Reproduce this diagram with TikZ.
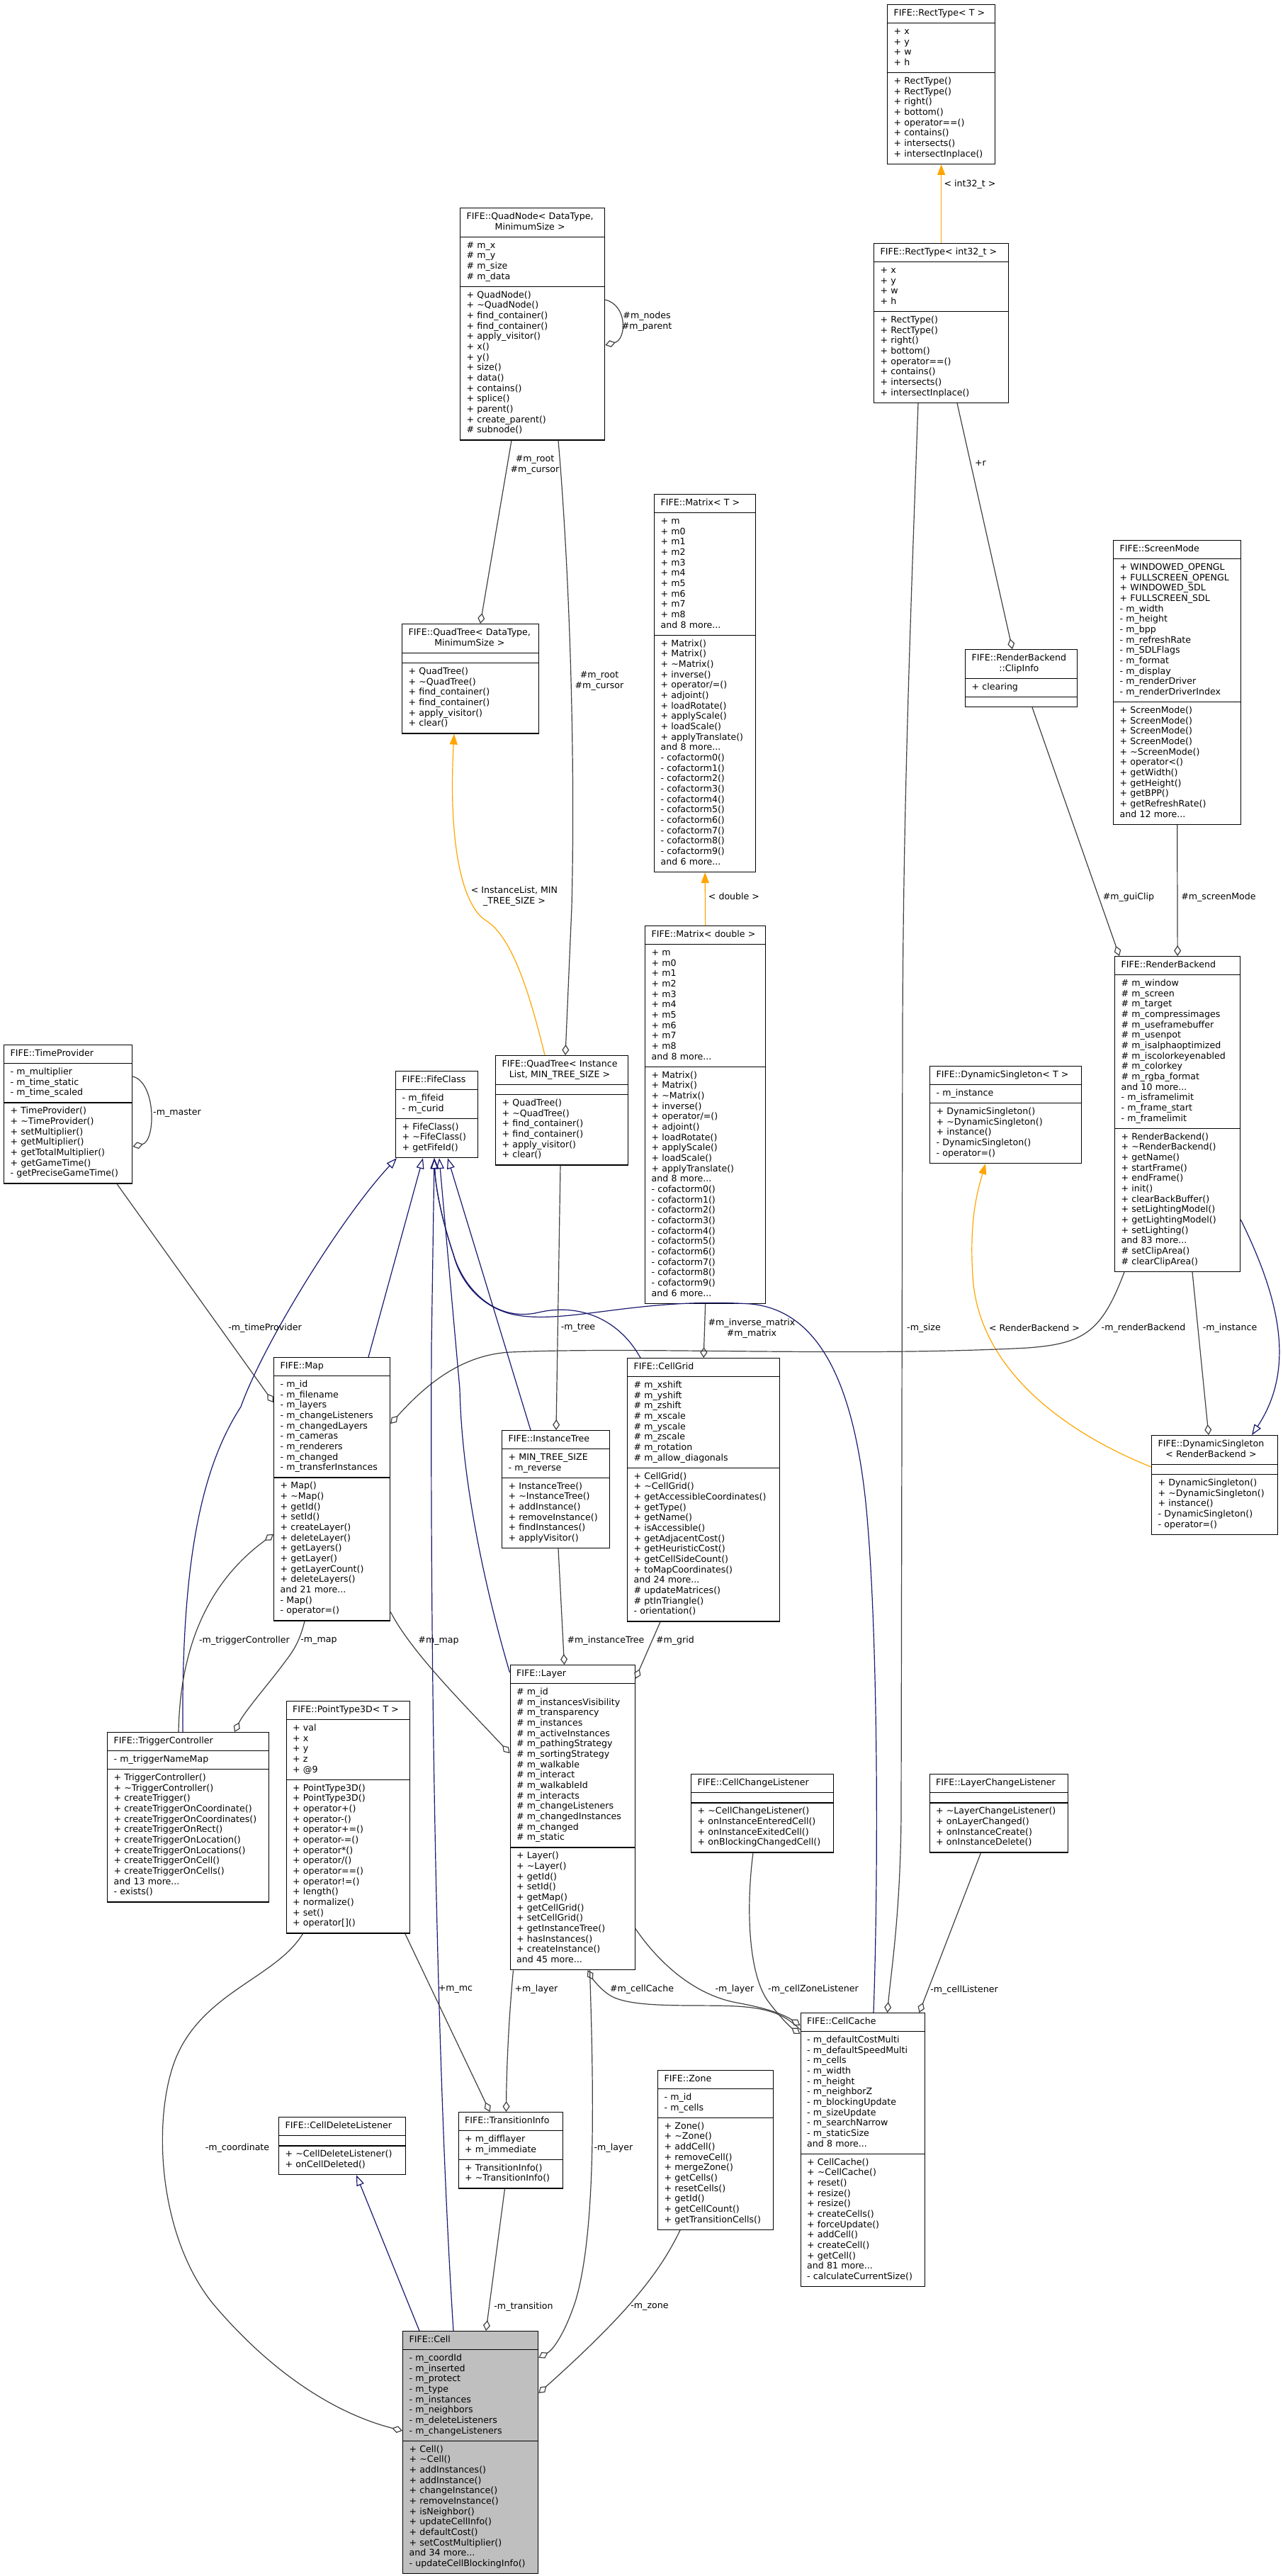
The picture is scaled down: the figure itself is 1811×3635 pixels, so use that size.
\documentclass[tikz,border=0pt]{standalone}
\usepackage{fontspec}
\setmainfont{DejaVu Sans}
\usetikzlibrary{arrows.meta,shapes.multipart,calc}
\definecolor{edgegray}{HTML}{404040}
\definecolor{inhblue}{HTML}{191970}
\definecolor{tmplorange}{HTML}{FFA500}
\definecolor{cellgray}{HTML}{BFBFBF}
\newcommand{\umlparts}[3]{\centering\begin{tabular}{@{}c@{}}#1\end{tabular}%
  \nodepart{two}\begin{tabular}{@{}l@{}}#2\end{tabular}%
  \nodepart{three}\begin{tabular}{@{}l@{}}#3\end{tabular}}
\tikzset{
  cls/.style={rectangle split, rectangle split parts=3, draw=black, line width=1.3pt,
    fill=white, anchor=north west, inner xsep=9pt, inner ysep=5pt, align=left},
  lbl/.style={inner sep=0pt},
  aggr/.style={draw=edgegray, line width=1.2pt, -{Diamond[open,length=15pt,width=10pt]}},
  inh/.style={draw=inhblue, line width=1.2pt, -{Triangle[open,length=15pt,width=11pt]}},
  tmpl/.style={draw=tmplorange, line width=1.2pt, -{Triangle[length=15pt,width=11pt]}},
}
\begin{document}
\begin{tikzpicture}[x=1pt, y=-1pt, font=\fontsize{12.6}{14.67}\selectfont]
  \fontsize{12.6}{14.67}\selectfont
  \useasboundingbox (0,0) rectangle (1811,3635);

  \node[cls, text width=134pt] (rectT) at (1252,6) {\umlparts{FIFE::RectType< T >}{+ x\\+ y\\+ w\\+ h}{+ RectType()\\+ RectType()\\+ right()\\+ bottom()\\+ operator==()\\+ contains()\\+ intersects()\\+ intersectInplace()}};
  \node[cls, text width=172pt] (rectI) at (1233,343) {\umlparts{FIFE::RectType< int32\_t >}{+ x\\+ y\\+ w\\+ h}{+ RectType()\\+ RectType()\\+ right()\\+ bottom()\\+ operator==()\\+ contains()\\+ intersects()\\+ intersectInplace()}};
  \node[cls, text width=186pt] (quadNode) at (649,293) {\umlparts{FIFE::QuadNode< DataType,\\MinimumSize >}{\# m\_x\\\# m\_y\\\# m\_size\\\# m\_data}{+ QuadNode()\\+ \textasciitilde{}QuadNode()\\+ find\_container()\\+ find\_container()\\+ apply\_visitor()\\+ x()\\+ y()\\+ size()\\+ data()\\+ contains()\\+ splice()\\+ parent()\\+ create\_parent()\\\# subnode()}};
  \node[cls, text width=175pt] (quadTreeD) at (567,880) {\umlparts{FIFE::QuadTree< DataType,\\MinimumSize >}{}{+ QuadTree()\\+ \textasciitilde{}QuadTree()\\+ find\_container()\\+ find\_container()\\+ apply\_visitor()\\+ clear()}};
  \node[cls, text width=125pt] (matrixT) at (923,697) {\umlparts{FIFE::Matrix< T >}{+ m\\+ m0\\+ m1\\+ m2\\+ m3\\+ m4\\+ m5\\+ m6\\+ m7\\+ m8\\and 8 more...}{+ Matrix()\\+ Matrix()\\+ \textasciitilde{}Matrix()\\+ inverse()\\+ operator/=()\\+ adjoint()\\+ loadRotate()\\+ applyScale()\\+ loadScale()\\+ applyTranslate()\\and 8 more...\\- cofactorm0()\\- cofactorm1()\\- cofactorm2()\\- cofactorm3()\\- cofactorm4()\\- cofactorm5()\\- cofactorm6()\\- cofactorm7()\\- cofactorm8()\\- cofactorm9()\\and 6 more...}};
  \node[cls, text width=152pt] (matrixD) at (910,1306) {\umlparts{FIFE::Matrix< double >}{+ m\\+ m0\\+ m1\\+ m2\\+ m3\\+ m4\\+ m5\\+ m6\\+ m7\\+ m8\\and 8 more...}{+ Matrix()\\+ Matrix()\\+ \textasciitilde{}Matrix()\\+ inverse()\\+ operator/=()\\+ adjoint()\\+ loadRotate()\\+ applyScale()\\+ loadScale()\\+ applyTranslate()\\and 8 more...\\- cofactorm0()\\- cofactorm1()\\- cofactorm2()\\- cofactorm3()\\- cofactorm4()\\- cofactorm5()\\- cofactorm6()\\- cofactorm7()\\- cofactorm8()\\- cofactorm9()\\and 6 more...}};
  \node[cls, text width=162pt] (screenMode) at (1571,762) {\umlparts{FIFE::ScreenMode}{+ WINDOWED\_OPENGL\\+ FULLSCREEN\_OPENGL\\+ WINDOWED\_SDL\\+ FULLSCREEN\_SDL\\- m\_width\\- m\_height\\- m\_bpp\\- m\_refreshRate\\- m\_SDLFlags\\- m\_format\\- m\_display\\- m\_renderDriver\\- m\_renderDriverIndex}{+ ScreenMode()\\+ ScreenMode()\\+ ScreenMode()\\+ ScreenMode()\\+ \textasciitilde{}ScreenMode()\\+ operator<()\\+ getWidth()\\+ getHeight()\\+ getBPP()\\+ getRefreshRate()\\and 12 more...}};
  \node[cls, text width=140pt] (clipInfo) at (1362,916) {\umlparts{FIFE::RenderBackend\\::ClipInfo}{+ clearing}{}};
  \node[cls, text width=159pt] (renderBackend) at (1573,1349) {\umlparts{FIFE::RenderBackend}{\# m\_window\\\# m\_screen\\\# m\_target\\\# m\_compressimages\\\# m\_useframebuffer\\\# m\_usenpot\\\# m\_isalphaoptimized\\\# m\_iscolorkeyenabled\\\# m\_colorkey\\\# m\_rgba\_format\\and 10 more...\\- m\_isframelimit\\- m\_frame\_start\\- m\_framelimit}{+ RenderBackend()\\+ \textasciitilde{}RenderBackend()\\+ getName()\\+ startFrame()\\+ endFrame()\\+ init()\\+ clearBackBuffer()\\+ setLightingModel()\\+ getLightingModel()\\+ setLighting()\\and 83 more...\\\# setClipArea()\\\# clearClipArea()}};
  \node[cls, text width=196pt] (dsT) at (1312,1504) {\umlparts{FIFE::DynamicSingleton< T >}{- m\_instance}{+ DynamicSingleton()\\+ \textasciitilde{}DynamicSingleton()\\+ instance()\\- DynamicSingleton()\\- operator=()}};
  \node[cls, text width=160pt] (dsRB) at (1625,2025) {\umlparts{FIFE::DynamicSingleton\\< RenderBackend >}{}{+ DynamicSingleton()\\+ \textasciitilde{}DynamicSingleton()\\+ instance()\\- DynamicSingleton()\\- operator=()}};
  \node[cls, text width=163pt] (timeProvider) at (5,1474) {\umlparts{FIFE::TimeProvider}{- m\_multiplier\\- m\_time\_static\\- m\_time\_scaled}{+ TimeProvider()\\+ \textasciitilde{}TimeProvider()\\+ setMultiplier()\\+ getMultiplier()\\+ getTotalMultiplier()\\+ getGameTime()\\- getPreciseGameTime()}};
  \node[cls, text width=98pt] (fifeClass) at (558,1511) {\umlparts{FIFE::FifeClass}{- m\_fifeid\\- m\_curid}{+ FifeClass()\\+ \textasciitilde{}FifeClass()\\+ getFifeId()}};
  \node[cls, text width=169pt] (quadTreeI) at (699,1489) {\umlparts{FIFE::QuadTree< Instance\\List, MIN\_TREE\_SIZE >}{}{+ QuadTree()\\+ \textasciitilde{}QuadTree()\\+ find\_container()\\+ find\_container()\\+ apply\_visitor()\\+ clear()}};
  \node[cls, text width=146pt] (map) at (386,1915) {\umlparts{FIFE::Map}{- m\_id\\- m\_filename\\- m\_layers\\- m\_changeListeners\\- m\_changedLayers\\- m\_cameras\\- m\_renderers\\- m\_changed\\- m\_transferInstances}{+ Map()\\+ \textasciitilde{}Map()\\+ getId()\\+ setId()\\+ createLayer()\\+ deleteLayer()\\+ getLayers()\\+ getLayer()\\+ getLayerCount()\\+ deleteLayers()\\and 21 more...\\- Map()\\- operator=()}};
  \node[cls, text width=197pt] (cellGrid) at (885,1916) {\umlparts{FIFE::CellGrid}{\# m\_xshift\\\# m\_yshift\\\# m\_zshift\\\# m\_xscale\\\# m\_yscale\\\# m\_zscale\\\# m\_rotation\\\# m\_allow\_diagonals}{+ CellGrid()\\+ \textasciitilde{}CellGrid()\\+ getAccessibleCoordinates()\\+ getType()\\+ getName()\\+ isAccessible()\\+ getAdjacentCost()\\+ getHeuristicCost()\\+ getCellSideCount()\\+ toMapCoordinates()\\and 24 more...\\\# updateMatrices()\\\# ptInTriangle()\\- orientation()}};
  \node[cls, text width=134pt] (instanceTree) at (708,2018) {\umlparts{FIFE::InstanceTree}{+ MIN\_TREE\_SIZE\\- m\_reverse}{+ InstanceTree()\\+ \textasciitilde{}InstanceTree()\\+ addInstance()\\+ removeInstance()\\+ findInstances()\\+ applyVisitor()}};
  \node[cls, text width=158pt] (layer) at (719.5,2349) {\umlparts{FIFE::Layer}{\# m\_id\\\# m\_instancesVisibility\\\# m\_transparency\\\# m\_instances\\\# m\_activeInstances\\\# m\_pathingStrategy\\\# m\_sortingStrategy\\\# m\_walkable\\\# m\_interact\\\# m\_walkableId\\\# m\_interacts\\\# m\_changeListeners\\\# m\_changedInstances\\\# m\_changed\\\# m\_static}{+ Layer()\\+ \textasciitilde{}Layer()\\+ getId()\\+ setId()\\+ getMap()\\+ getCellGrid()\\+ setCellGrid()\\+ getInstanceTree()\\+ hasInstances()\\+ createInstance()\\and 45 more...}};
  \node[cls, text width=210pt] (triggerController) at (151,2444) {\umlparts{FIFE::TriggerController}{- m\_triggerNameMap}{+ TriggerController()\\+ \textasciitilde{}TriggerController()\\+ createTrigger()\\+ createTriggerOnCoordinate()\\+ createTriggerOnCoordinates()\\+ createTriggerOnRect()\\+ createTriggerOnLocation()\\+ createTriggerOnLocations()\\+ createTriggerOnCell()\\+ createTriggerOnCells()\\and 13 more...\\- exists()}};
  \node[cls, text width=156pt] (pointType3D) at (403.5,2400) {\umlparts{FIFE::PointType3D< T >}{+ val\\+ x\\+ y\\+ z\\+ @9}{+ PointType3D()\\+ PointType3D()\\+ operator+()\\+ operator-()\\+ operator+=()\\+ operator-=()\\+ operator*()\\+ operator/()\\+ operator==()\\+ operator!=()\\+ length()\\+ normalize()\\+ set()\\+ operator[]()}};
  \node[cls, text width=183pt] (cellChangeListener) at (975,2503) {\umlparts{FIFE::CellChangeListener}{}{+ \textasciitilde{}CellChangeListener()\\+ onInstanceEnteredCell()\\+ onInstanceExitedCell()\\+ onBlockingChangedCell()}};
  \node[cls, text width=177pt] (layerChangeListener) at (1311.5,2503) {\umlparts{FIFE::LayerChangeListener}{}{+ \textasciitilde{}LayerChangeListener()\\+ onLayerChanged()\\+ onInstanceCreate()\\+ onInstanceDelete()}};
  \node[cls, text width=157pt] (cellCache) at (1129.5,2840) {\umlparts{FIFE::CellCache}{- m\_defaultCostMulti\\- m\_defaultSpeedMulti\\- m\_cells\\- m\_width\\- m\_height\\- m\_neighborZ\\- m\_blockingUpdate\\- m\_sizeUpdate\\- m\_searchNarrow\\- m\_staticSize\\and 8 more...}{+ CellCache()\\+ \textasciitilde{}CellCache()\\+ reset()\\+ resize()\\+ resize()\\+ createCells()\\+ forceUpdate()\\+ addCell()\\+ createCell()\\+ getCell()\\and 81 more...\\- calculateCurrentSize()}};
  \node[cls, text width=145pt] (zone) at (928,2921) {\umlparts{FIFE::Zone}{- m\_id\\- m\_cells}{+ Zone()\\+ \textasciitilde{}Zone()\\+ addCell()\\+ removeCell()\\+ mergeZone()\\+ getCells()\\+ resetCells()\\+ getId()\\+ getCellCount()\\+ getTransitionCells()}};
  \node[cls, text width=161pt] (cellDeleteListener) at (393,2987) {\umlparts{FIFE::CellDeleteListener}{}{+ \textasciitilde{}CellDeleteListener()\\+ onCellDeleted()}};
  \node[cls, text width=129pt] (transitionInfo) at (646.5,2980) {\umlparts{FIFE::TransitionInfo}{+ m\_difflayer\\+ m\_immediate}{+ TransitionInfo()\\+ \textasciitilde{}TransitionInfo()}};
  \node[cls, fill=cellgray, text width=173pt] (cell) at (568,3289) {\umlparts{FIFE::Cell}{- m\_coordId\\- m\_inserted\\- m\_protect\\- m\_type\\- m\_instances\\- m\_neighbors\\- m\_deleteListeners\\- m\_changeListeners}{+ Cell()\\+ \textasciitilde{}Cell()\\+ addInstances()\\+ addInstance()\\+ changeInstance()\\+ removeInstance()\\+ isNeighbor()\\+ updateCellInfo()\\+ defaultCost()\\+ setCostMultiplier()\\and 34 more...\\- updateCellBlockingInfo()}};

  \draw[tmpl] (rectI.north) -- (rectT.south);
  \draw[aggr] ($(rectI.south west)+(118,0)$) -- ($(clipInfo.north west)+(67,0)$);
  \draw[aggr] ($(rectI.south west)+(63,0)$) .. controls (1284,900) and (1275,1150) .. (1274,1450) -- (1272,2560) .. controls (1271,2700) and (1258,2780) .. ($(cellCache.north west)+(123,0)$);
  \draw[aggr] ($(quadNode.north east)+(0,130)$) .. controls +(32,8) and +(30,-8) .. ($(quadNode.north east)+(0,194)$);
  \draw[aggr] ($(quadNode.south west)+(73,0)$) -- ($(quadTreeD.north west)+(111,0)$);
  \draw[aggr] ($(quadNode.south west)+(139,0)$) .. controls (805,820) and (812,1080) .. (807,1280) -- ($(quadTreeI.north west)+(99,0)$);
  \draw[tmpl] ($(quadTreeI.north west)+(70,0)$) .. controls (745,1390) and (720,1320) .. (686,1299) .. controls (655,1280) and (632,1200) .. ($(quadTreeD.south west)+(74,0)$);
  \draw[tmpl] (matrixD.north) -- (matrixT.south);
  \draw[aggr] ($(clipInfo.south west)+(95,0)$) -- ($(renderBackend.north west)+(7,0)$);
  \draw[aggr] (screenMode.south) -- (renderBackend.north);
  \draw[inh] ($(renderBackend.north east)+(0,372)$) .. controls (1805,1830) and (1830,1930) .. ($(dsRB.north west)+(142,0)$);
  \draw[aggr] ($(renderBackend.south west)+(110,0)$) -- ($(dsRB.north west)+(81,0)$);
  \draw[tmpl] ($(dsRB.north west)+(0,45)$) .. controls (1500,2020) and (1380,1930) .. (1373,1800) .. controls (1368,1720) and (1380,1680) .. ($(dsT.south west)+(79,0)$);
  \draw[aggr] ($(renderBackend.south west)+(14,0)$) .. controls (1555,1880) and (1530,1896) .. (1450,1902) .. controls (1200,1915) and (900,1900) .. (720,1908) .. controls (650,1912) and (600,1955) .. ($(map.north east)+(0,94)$);
  \draw[aggr] ($(timeProvider.north east)+(0,45)$) .. controls +(33,8) and +(33,-8) .. ($(timeProvider.north east)+(0,144)$);
  \draw[aggr] ($(timeProvider.south west)+(160,0)$) -- ($(map.north west)+(0,64)$);

  \draw[inh] ($(triggerController.north west)+(107,0)$) .. controls (256,2200) and (285,2070) .. (340,1985) .. controls (370,1900) and (480,1720) .. ($(fifeClass.south west)+(2,0)$);
  \draw[inh] ($(map.north west)+(134,0)$) -- ($(fifeClass.south west)+(39,0)$);
  \draw[inh] ($(layer.north west)+(0,11)$) .. controls (690,2260) and (652,2100) .. (649,1960) -- ($(fifeClass.south west)+(62,0)$);
  \draw[inh] ($(instanceTree.north west)+(41,0)$) -- ($(fifeClass.south west)+(74,0)$);
  \draw[inh] ($(cell.north west)+(72,0)$) .. controls (618,2950) and (607,2400) .. (609,1900) -- ($(fifeClass.south west)+(55,0)$);
  \draw[inh] ($(cellGrid.north west)+(19,0)$) .. controls (870,1855) and (810,1840) .. (760,1852) .. controls (700,1866) and (655,1820) .. (640,1770) .. controls (625,1725) and (615,1680) .. ($(fifeClass.south west)+(55,0)$);
  \draw[inh] ($(cellCache.north west)+(103.5,0)$) .. controls (1240,2650) and (1240,2300) .. (1222,2120) .. controls (1205,1960) and (1160,1850) .. (1060,1840) .. controls (900,1830) and (800,1870) .. (725,1855) .. controls (680,1845) and (650,1810) .. (640,1770) .. controls (625,1725) and (615,1680) .. ($(fifeClass.south west)+(55,0)$);

  \draw[aggr] ($(quadTreeI.south west)+(92,0)$) -- ($(instanceTree.north west)+(77,0)$);
  \draw[aggr] (matrixD.south) -- (cellGrid.north);
  \draw[aggr] ($(instanceTree.south west)+(80,0)$) -- ($(layer.north west)+(77,0)$);
  \draw[aggr] ($(cellGrid.south west)+(47,0)$) -- ($(layer.north east)+(0,20)$);
  \draw[aggr] ($(map.south east)+(0,-13)$) .. controls (580,2330) and (650,2400) .. ($(layer.north west)+(0,125)$);
  \draw[aggr] ($(map.south west)+(44,0)$) .. controls (422,2320) and (412,2332) .. (400,2348) .. controls (380,2375) and (345,2415) .. ($(triggerController.north west)+(180,0)$);
  \draw[aggr] ($(triggerController.north west)+(101,0)$) .. controls (254,2330) and (290,2235) .. ($(map.north west)+(0,250)$);
  \draw[aggr] ($(pointType3D.south east)+(-7,0)$) -- ($(transitionInfo.north west)+(45,0)$);
  \draw[aggr] ($(layer.south west)+(5,0)$) .. controls (718,2850) and (715,2920) .. ($(transitionInfo.north west)+(68,0)$);
  \draw[aggr] ($(cellCache.north west)+(0,24)$) .. controls (1110,2845) and (1090,2834) .. (1040,2831) .. controls (980,2828) and (890,2835) .. (860,2815) .. controls (845,2805) and (835,2790) .. ($(layer.south west)+(110,0)$);
  \draw[aggr] ($(layer.south east)+(0,-59)$) .. controls (930,2770) and (980,2815) .. (1040,2826) .. controls (1090,2835) and (1110,2845) .. ($(cellCache.north west)+(0,18)$);
  \draw[aggr] ($(cellChangeListener.south west)+(88,0)$) .. controls (1052,2700) and (1058,2790) .. (1085,2825) .. controls (1100,2845) and (1115,2860) .. ($(cellCache.north west)+(0,30)$);
  \draw[aggr] ($(layerChangeListener.south west)+(73,0)$) -- ($(cellCache.north west)+(168,0)$);
  \draw[inh] ($(cell.north west)+(24,0)$) -- ($(cellDeleteListener.south west)+(110,0)$);
  \draw[aggr] ($(transitionInfo.south west)+(66,0)$) -- ($(cell.north west)+(118,0)$);
  \draw[aggr] ($(layer.south west)+(113,0)$) .. controls (838,2950) and (842,3150) .. (812,3248) .. controls (798,3290) and (782,3315) .. ($(cell.north east)+(0,38)$);
  \draw[aggr] ($(zone.south west)+(32,0)$) .. controls (930,3210) and (880,3270) .. ($(cell.north east)+(0,88)$);
  \draw[aggr] ($(pointType3D.south west)+(24,0)$) .. controls (390,2790) and (290,2810) .. (250,2900) .. controls (215,2980) and (220,3150) .. (300,3250) .. controls (380,3345) and (470,3405) .. ($(cell.north west)+(0,141)$);

  \node[lbl] (lInt) at (1369,260) {< int32\_t >};
  \node[lbl] (lR) at (1384,654) {+r};
  \node[lbl, align=center] (lNodes) at (913,454) {\#m\_nodes\\\#m\_parent};
  \node[lbl, align=center] (lRootD) at (755,656) {\#m\_root\\\#m\_cursor};
  \node[lbl, align=center] (lRootI) at (846,961) {\#m\_root\\\#m\_cursor};
  \node[lbl, align=center] (lInst) at (726,1265) {< InstanceList, MIN\\\_TREE\_SIZE >};
  \node[lbl] (lDouble) at (1036,1265) {< double >};
  \node[lbl] (lGui) at (1593,1266) {\#m\_guiClip};
  \node[lbl] (lScreen) at (1720,1266) {\#m\_screenMode};
  \node[lbl] (lMaster) at (250,1571) {-m\_master};
  \node[lbl] (lTime) at (374,1874) {-m\_timeProvider};
  \node[lbl] (lTree) at (816,1874) {-m\_tree};
  \node[lbl, align=center] (lMatrix) at (1061,1875) {\#m\_inverse\_matrix\\\#m\_matrix};
  \node[lbl] (lSize) at (1304,1874) {-m\_size};
  \node[lbl] (lRB) at (1460,1874) {< RenderBackend >};
  \node[lbl] (lRBack) at (1614,1874) {-m\_renderBackend};
  \node[lbl] (lInstance) at (1736,1874) {-m\_instance};
  \node[lbl] (lTrig) at (345,2315) {-m\_triggerController};
  \node[lbl] (lMapT) at (450,2315) {-m\_map};
  \node[lbl] (lMapL) at (619,2315) {\#m\_map};
  \node[lbl] (lITree) at (855,2315) {\#m\_instanceTree};
  \node[lbl] (lGrid) at (953,2315) {\#m\_grid};
  \node[lbl] (lMc) at (643,2807) {+m\_mc};
  \node[lbl] (lLayerT) at (757,2807) {+m\_layer};
  \node[lbl] (lCache) at (906,2807) {\#m\_cellCache};
  \node[lbl] (lLayerC) at (1037,2807) {-m\_layer};
  \node[lbl] (lZoneL) at (1148,2807) {-m\_cellZoneListener};
  \node[lbl] (lCellL) at (1361,2808) {-m\_cellListener};
  \node[lbl] (lCoord) at (335,3031) {-m\_coordinate};
  \node[lbl] (lLayerCell) at (866,3031) {-m\_layer};
  \node[lbl] (lTrans) at (739,3255) {-m\_transition};
  \node[lbl] (lZone) at (917,3255) {-m\_zone};
\end{tikzpicture}
\end{document}
